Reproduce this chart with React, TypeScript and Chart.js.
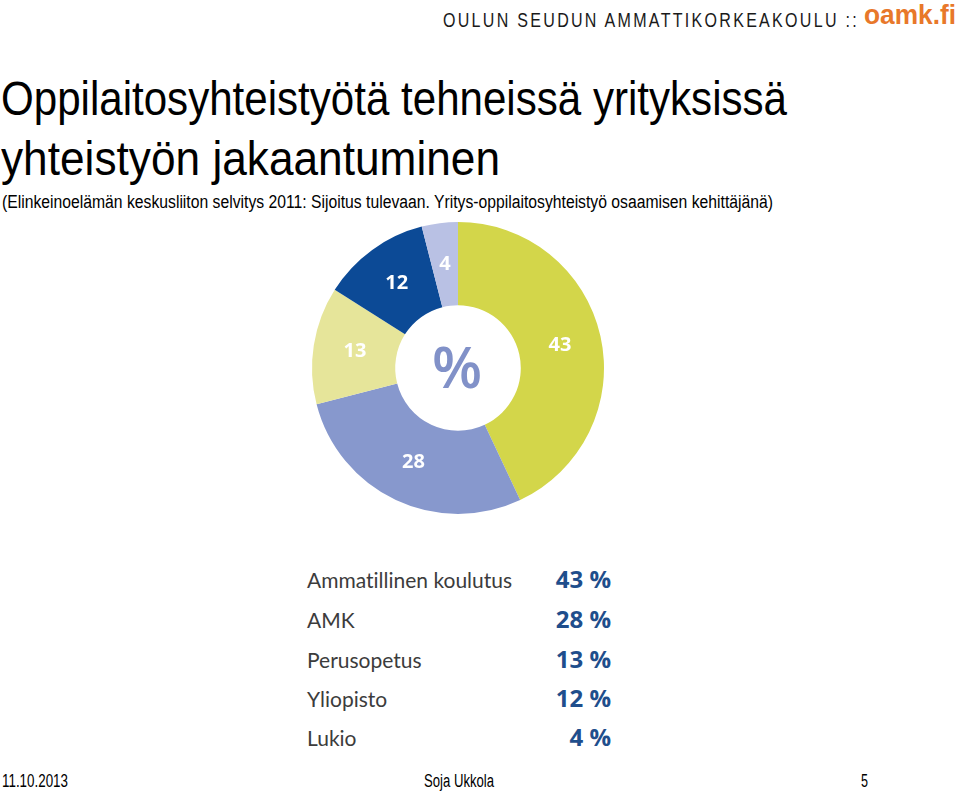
import React, { useEffect, useLayoutEffect, useRef } from "react";
import { Chart, registerables } from "chart.js";

Chart.register(...registerables);

const categories = ["Ammatillinen koulutus", "AMK", "Perusopetus", "Yliopisto", "Lukio"];
const values = [43, 28, 13, 12, 4];
const colors = ["#d3d64a", "#8798cd", "#e6e59a", "#0c4a96", "#b9c1e4"];

const title1 = "Oppilaitosyhteistyötä tehneissä yrityksissä";
const title2 = "yhteistyön jakaantuminen";
const subtitle =
  "(Elinkeinoelämän keskusliiton selvitys 2011: Sijoitus tulevaan. Yritys-oppilaitosyhteistyö osaamisen kehittäjänä)";
const headerText = "OULUN SEUDUN AMMATTIKORKEAKOULU ::";
const brand = "oamk.fi";
const footerDate = "11.10.2013";
const footerAuthor = "Soja Ukkola";
const footerPage = "5";
const centerSymbol = "%";

const LIB = "'Liberation Sans', Arial, sans-serif";
const OPEN = "'Open Sans', 'Noto Sans', sans-serif";
const LATO = "Lato, 'Open Sans', sans-serif";

type TProps = {
  x: number;
  base: number;
  fs: number;
  w?: number;
  text: string;
  font?: string;
  weight?: number | string;
  color?: string;
  ls?: number;
  off?: number;
};

function T({ x, base, fs, w, text, font = LIB, weight = 400, color = "#000", ls = 0, off = 0.8465 }: TProps) {
  return (
    <span
      data-w={w}
      style={{
        position: "absolute",
        left: x,
        top: base - off * fs,
        fontSize: fs,
        lineHeight: 1,
        fontFamily: font,
        fontWeight: weight as any,
        color,
        letterSpacing: ls,
        whiteSpace: "nowrap",
        display: "inline-block",
        transformOrigin: "left top",
        fontVariantLigatures: "none",
      }}
    >
      {text}
    </span>
  );
}

export default function App() {
  const canvasRef = useRef<HTMLCanvasElement>(null);
  const rootRef = useRef<HTMLDivElement>(null);

  useLayoutEffect(() => {
    document.body.style.margin = "0";
    const els = rootRef.current?.querySelectorAll<HTMLElement>("[data-w]") || [];
    els.forEach((el) => {
      const w = parseFloat(el.dataset.w || "");
      if (!w) return;
      el.style.transform = "none";
      const cw = el.getBoundingClientRect().width;
      if (cw > 0) el.style.transform = `scaleX(${w / cw})`;
    });
  }, []);

  useEffect(() => {
    if (!canvasRef.current) return;
    const labelPlugin = {
      id: "sliceLabels",
      afterDatasetsDraw(chart: any) {
        const ctx = chart.ctx;
        const meta = chart.getDatasetMeta(0);
        ctx.save();
        ctx.textAlign = "center";
        ctx.textBaseline = "middle";
        ctx.fillStyle = "#ffffff";
        ctx.font = `bold 20px ${OPEN}`;
        meta.data.forEach((arc: any, i: number) => {
          const p = arc.getCenterPoint();
          ctx.fillText(String(chart.data.datasets[0].data[i]), p.x, p.y);
        });
        const first = meta.data[0];
        ctx.fillStyle = "#8191c8";
        ctx.font = `600 58px ${OPEN}`;
        ctx.fillText(centerSymbol, first.x - 1, first.y + 3);
        ctx.restore();
      },
    };
    const chart = new Chart(canvasRef.current, {
      type: "doughnut",
      data: {
        labels: categories,
        datasets: [
          {
            data: values,
            backgroundColor: colors,
            borderWidth: 0,
          },
        ],
      },
      options: {
        responsive: false,
        animation: false,
        cutout: "43%",
        layout: { padding: 4 },
        plugins: {
          legend: { display: false },
          tooltip: { enabled: false },
          title: { display: false },
        },
      },
      plugins: [labelPlugin],
    });
    return () => chart.destroy();
  }, []);

  const rowBase = [588, 628, 668, 707, 746];

  return (
    <div
      ref={rootRef}
      style={{
        position: "absolute",
        left: 0,
        top: 0,
        width: 960,
        height: 794,
        background: "#ffffff",
        overflow: "hidden",
      }}
    >
      <T x={443} base={27} fs={21} w={416} text={headerText} color="#1a1a1a" ls={3} />
      <T x={864} base={25} fs={28} w={92} text={brand} weight={700} color="#e8782a" />

      <T x={1} base={115} fs={49} w={786} text={title1} />
      <T x={1} base={175} fs={49} w={499} text={title2} />
      <T x={2} base={208} fs={18} w={771} text={subtitle} />

      <canvas
        ref={canvasRef}
        width={300}
        height={300}
        style={{ position: "absolute", left: 308, top: 218, width: 300, height: 300 }}
      />
      {categories.map((c, i) => (
        <React.Fragment key={c}>
          <T x={307} base={rowBase[i]} fs={21} text={c} font={LATO} color="#3c3c3c" off={0.887} />
          <span
            style={{
              position: "absolute",
              right: 960 - 611,
              top: rowBase[i] - 0.888 * 24,
              fontSize: 24,
              lineHeight: 1,
              fontFamily: OPEN,
              fontWeight: 700,
              color: "#1f4e8c",
              whiteSpace: "nowrap",
            }}
          >
            {values[i]} %
          </span>
        </React.Fragment>
      ))}

      <T x={2} base={787} fs={18} w={66} text={footerDate} />
      <T x={424} base={787} fs={18} w={70} text={footerAuthor} />
      <T x={861} base={787} fs={18} w={7} text={footerPage} />
    </div>
  );
}
